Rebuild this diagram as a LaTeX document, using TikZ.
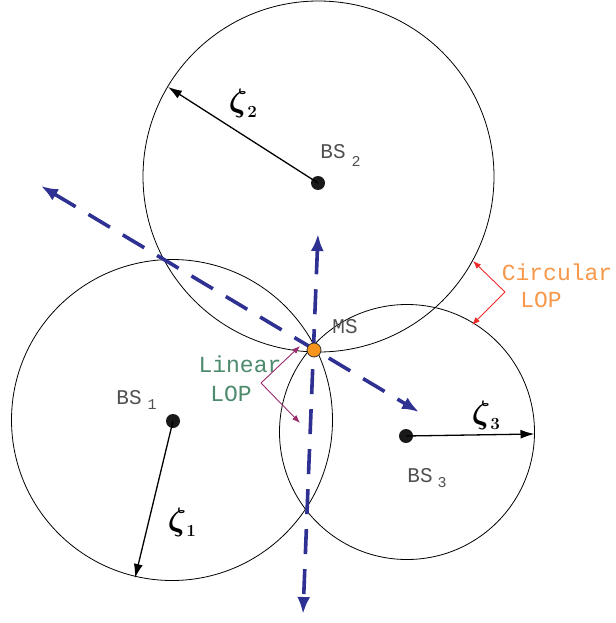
\documentclass[tikz,border=0pt]{standalone}
\usepackage{fontspec}
\usepackage{amsmath,bm}
\setmonofont{Liberation Mono}
\usetikzlibrary{arrows.meta}
\definecolor{lopblue}{HTML}{2E3192}
\definecolor{msorange}{HTML}{F7941D}
\definecolor{linlop}{HTML}{4E8A6C}
\definecolor{circlop}{HTML}{F7984A}
\definecolor{linarrow}{HTML}{9B2C6B}
\definecolor{circarrow}{HTML}{EE2A2A}
\definecolor{bsgray}{HTML}{505050}
\newcommand{\zetasub}[1]{\scalebox{1.3}{$\bm{\zeta}$}\raisebox{-6pt}{\fontsize{17}{17}\selectfont\bfseries #1}}
\tikzset{
  rangecircle/.style={draw=black, line width=0.8pt},
  bsdot/.style={circle, fill=black!90, inner sep=0pt, minimum size=14pt},
  msdot/.style={circle, draw=black!80, fill=msorange, line width=0.8pt, inner sep=0pt, minimum size=14pt},
  radiusarrow/.style={line width=1.3pt, -{Latex[length=14pt,width=9pt]}},
  loparrow/.style={line width=3.6pt, lopblue, dash pattern=on 25pt off 15pt,
     {Latex[length=17pt,width=13pt]}-{Latex[length=17pt,width=13pt]}},
  linarr/.style={line width=0.9pt, linarrow, -{Latex[length=8pt,width=6pt]}},
  circarr/.style={line width=0.9pt, circarrow, -{Latex[length=8pt,width=6pt]}},
  bslabel/.style={text=bsgray, font=\ttfamily\fontsize{21}{23}\selectfont, inner sep=0pt},
  sublabel/.style={text=bsgray, font=\ttfamily\fontsize{15}{17}\selectfont, inner sep=0pt},
  zetalabel/.style={font=\fontsize{24.88}{27}\selectfont, inner sep=0pt},
  linlabel/.style={text=linlop, font=\ttfamily\fontsize{23}{25}\selectfont, inner sep=0pt},
  circlabel/.style={text=circlop, font=\ttfamily\fontsize{23}{25}\selectfont, inner sep=0pt},
}
\begin{document}
\begin{tikzpicture}[x=1pt,y=-1pt]
\useasboundingbox (0,0) rectangle (615,623);

% range circles
\draw[rangecircle] (172,420) circle[radius=160.5];
\draw[rangecircle] (318.5,176.5) circle[radius=175.5];
\draw[rangecircle] (407,432) circle[radius=127.5];

% base stations
\node[bsdot] (bs1) at (173,421) {};
\node[bsdot] (bs2) at (318,183) {};
\node[bsdot] (bs3) at (406,436) {};

% radius end points
\coordinate (r1) at (135,578);
\coordinate (r2) at (168,87);
\coordinate (r3) at (534.5,434);

\draw[radiusarrow] (bs1.center) -- (r1);
\draw[radiusarrow] (bs2.center) -- (r2);
\draw[radiusarrow] (bs3.center) -- (r3);

% linear LOPs
\coordinate (l1a) at (41,186);
\coordinate (l1b) at (419,412);
\coordinate (l2a) at (318,234);
\coordinate (l2b) at (303,614);
\draw[loparrow] (l1a) -- (l1b);
\draw[loparrow] (l2a) -- (l2b);

% mobile station
\node[msdot] (ms) at (314,350) {};

% labels
\node[bslabel] (bs2t) at (333,152) {BS};
\node[sublabel] (bs2s) at (356,161) {2};
\node[bslabel] (bs1t) at (129,398) {BS};
\node[sublabel] (bs1s) at (152,405) {1};
\node[bslabel] (bs3t) at (420,476) {BS};
\node[sublabel] (bs3s) at (442,483) {3};
\node[bslabel] (mst) at (345,327) {MS};

\node[zetalabel] (z2) at (243,103) {\zetasub{2}};
\node[zetalabel] (z1) at (182,522) {\zetasub{1}};
\node[zetalabel] (z3) at (486,415) {\zetasub{3}};

\node[linlabel] (lin1) at (240,364) {Linear};
\node[linlabel] (lin2) at (231,394) {LOP};
\node[circlabel] (circ1) at (557,272) {Circular};
\node[circlabel] (circ2) at (541,300) {LOP};

% LOP pointers
\coordinate (lp) at (261,383);
\coordinate (lpa) at (300,346);
\coordinate (lpb) at (300,423);
\draw[linarr] (lp) -- (lpa);
\draw[linarr] (lp) -- (lpb);

\coordinate (cp) at (505,292);
\coordinate (cpa) at (473,261);
\coordinate (cpb) at (472,325);
\draw[circarr] (cp) -- (cpa);
\draw[circarr] (cp) -- (cpb);
\end{tikzpicture}
\end{document}
